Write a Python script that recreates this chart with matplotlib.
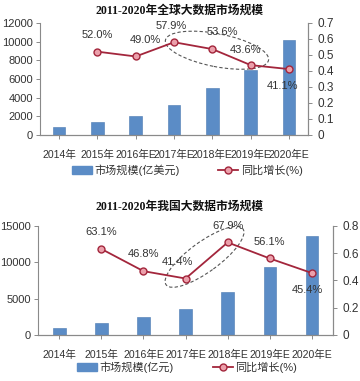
import matplotlib
matplotlib.use('Agg')
import matplotlib.pyplot as plt
from matplotlib.patches import Ellipse
from matplotlib.transforms import ScaledTranslation
import numpy as np

plt.rcParams['font.family'] = ['Liberation Sans', 'Noto Sans CJK SC', 'DejaVu Sans']

years = ['2014年', '2015年', '2016年E', '2017年E', '2018年E', '2019年E', '2020年E']

# global market (100 million USD) and yoy growth
global_size = [850, 1350, 2050, 3250, 5050, 7000, 10200]
global_growth = [None, 0.520, 0.490, 0.579, 0.536, 0.436, 0.411]
global_labels = ['', '52.0%', '49.0%', '57.9%', '53.6%', '43.6%', '41.1%']

# china market (100 million CNY) and yoy growth
china_size = [1000, 1700, 2400, 3500, 5900, 9400, 13600]
china_growth = [None, 0.631, 0.468, 0.414, 0.679, 0.561, 0.454]
china_labels = ['', '63.1%', '46.8%', '41.4%', '67.9%', '56.1%', '45.4%']

BAR = '#5b8cc6'
LINE = '#a3263c'
GREY = '#8a8a8a'
TXT = '#333333'


def style(ax):
    for s in ['left', 'right', 'bottom']:
        ax.spines[s].set_color(GREY)
        ax.spines[s].set_linewidth(0.8)
    ax.spines['top'].set_visible(False)
    ax.tick_params(colors=GREY, labelcolor=TXT, length=3, width=0.7)


def panel(fig, rect, title, title_y, sizes, growth, labels, ymax, ystep,
          rmax, rstep, offsets, ell, bar_w, unit, legend_y):
    ax = fig.add_axes(rect)
    x = np.arange(len(years))
    ax.bar(x, sizes, width=bar_w, color=BAR, edgecolor='#4a78b0', linewidth=0.4)
    ax.set_xlim(-0.5, len(years) - 0.5)
    ax.set_ylim(0, ymax)
    ax.set_yticks(np.arange(0, ymax + 1, ystep))
    ax.set_xticks(x)
    ax.set_xticklabels(years, fontsize=7.6)
    ax.tick_params(axis='y', labelsize=8, pad=2)
    ax.tick_params(axis='x', length=0, pad=8)
    style(ax)

    ax2 = ax.twinx()
    gx = [i for i, g in enumerate(growth) if g is not None]
    gy = [g for g in growth if g is not None]
    ax2.plot(gx, gy, color=LINE, lw=1.3, marker='o', ms=5,
             mfc='#eba0ab', mec=LINE, mew=1.0)
    ax2.set_ylim(0, rmax)
    ticks = np.round(np.arange(0, rmax + 1e-9, rstep), 1)
    ax2.set_yticks(ticks)
    ax2.set_yticklabels(['0'] + ['%g' % t for t in ticks[1:]])
    ax2.tick_params(axis='y', labelsize=8.5)
    style(ax2)
    ax2.spines['left'].set_visible(False)

    for i, g in zip(gx, gy):
        dx, dy = offsets[i]
        ax2.annotate(labels[i], (i, g), xytext=(dx, dy), textcoords='offset points',
                     ha='center', va='center', fontsize=8, color=TXT)

    cx, cy, w, h, ang = ell
    tr = fig.dpi_scale_trans + ScaledTranslation(cx, cy, ax2.transData)
    ax2.add_patch(Ellipse((0, 0), w, h, angle=ang, transform=tr, fill=False,
                          ls=(0, (3, 2)), lw=0.8, ec='#555555', clip_on=False))

    fig.text(0.5, title_y, title, ha='center', va='center', fontsize=8.5,
             fontweight='bold', color='#111111', family=['Liberation Serif', 'Noto Sans CJK SC'])

    h1 = plt.Rectangle((0, 0), 1, 1, color=BAR)
    h2, = ax2.plot([], [], color=LINE, lw=1.3, marker='o', ms=5, mfc='#eba0ab', mec=LINE)
    fig.legend([h1, h2], ['市场规模(' + unit + ')', '同比增长(%)'], ncol=2,
               loc='center', bbox_to_anchor=(0.52, legend_y), frameon=False,
               fontsize=8, handlelength=1.8, handletextpad=0.2, columnspacing=3.5,
               labelcolor=TXT)
    return ax, ax2


fig = plt.figure(figsize=(3.6, 3.81), dpi=100)

panel(fig, [0.111, 0.646, 0.745, 0.294], '2011-2020年全球大数据市场规模', 0.972,
      global_size, global_growth, global_labels, 12000, 2000, 0.7, 0.1,
      {1: (0, 12), 2: (7, 12), 3: (-2, 12), 4: (7, 12), 5: (-4, 11), 6: (-5, -12)},
      (4.12, 0.529, 1.05, 0.33, -11), 0.33, '亿美元', 0.553)

panel(fig, [0.106, 0.121, 0.819, 0.286], '2011-2020年我国大数据市场规模', 0.457,
      china_size, china_growth, china_labels, 15000, 5000, 0.8, 0.2,
      {1: (0, 12), 2: (0, 12), 3: (-6, 12), 4: (0, 12), 5: (0, 12), 6: (-3, -12)},
      (3.45, 0.573, 0.95, 0.30, 36), 0.3, '亿元', 0.036)

fig.savefig('out.png', dpi=100)
